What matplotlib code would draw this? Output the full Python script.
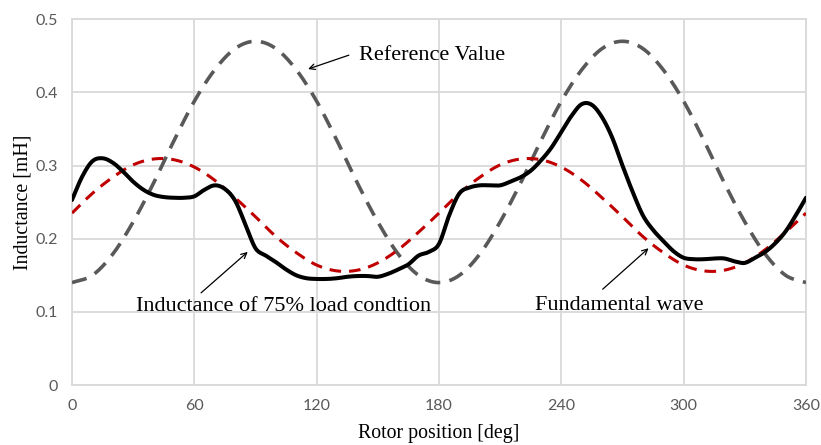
import numpy as np
import matplotlib
matplotlib.use("Agg")
import matplotlib.pyplot as plt

# Rotor position samples [deg]
pos_fine = list(range(0, 361, 5))
pos_coarse = list(range(0, 361, 10))

# Measured inductance at 75 % load [mH], every 5 deg
load75 = [
    0.253, 0.285, 0.306, 0.310, 0.304, 0.292, 0.278, 0.267, 0.260, 0.257,
    0.256, 0.256, 0.258, 0.267, 0.273, 0.268, 0.252, 0.220, 0.187, 0.177,
    0.168, 0.158, 0.150, 0.146, 0.145, 0.145, 0.146, 0.148, 0.149, 0.149,
    0.148, 0.152, 0.158, 0.165, 0.177, 0.182, 0.193, 0.232, 0.262, 0.270,
    0.273, 0.273, 0.273, 0.278, 0.284, 0.293, 0.307, 0.324, 0.346, 0.368,
    0.384, 0.383, 0.366, 0.338, 0.300, 0.264, 0.232, 0.212, 0.197, 0.183,
    0.174, 0.172, 0.172, 0.173, 0.173, 0.169, 0.167, 0.174, 0.182, 0.194,
    0.210, 0.232, 0.256,
]

# Fundamental component of the measured inductance [mH], every 10 deg
fundamental = [
    0.235, 0.262, 0.284, 0.301, 0.309, 0.308, 0.298, 0.280, 0.256, 0.230,
    0.203, 0.181, 0.164, 0.156, 0.157, 0.167, 0.185, 0.209, 0.235,
    0.262, 0.284, 0.301, 0.309, 0.308, 0.298, 0.280, 0.256, 0.230,
    0.203, 0.181, 0.164, 0.156, 0.157, 0.167, 0.185, 0.209, 0.235,
]

# Reference inductance profile [mH], every 10 deg
reference = [
    0.140, 0.150, 0.179, 0.223, 0.276, 0.334, 0.388, 0.431, 0.460, 0.470,
    0.460, 0.431, 0.388, 0.334, 0.276, 0.223, 0.179, 0.150, 0.140,
    0.150, 0.179, 0.223, 0.276, 0.334, 0.388, 0.431, 0.460, 0.470,
    0.460, 0.431, 0.388, 0.334, 0.276, 0.223, 0.179, 0.150, 0.140,
]

x_ticks = [0, 60, 120, 180, 240, 300, 360]
y_ticks = [0, 0.1, 0.2, 0.3, 0.4, 0.5]
y_tick_labels = ["0", "0.1", "0.2", "0.3", "0.4", "0.5"]


def smooth(x, y, steps=12):
    """Catmull-Rom curve through the samples, like a spreadsheet smoothed line."""
    x = np.asarray(x, float)
    y = np.asarray(y, float)
    px = np.concatenate([[2 * x[0] - x[1]], x, [2 * x[-1] - x[-2]]])
    py = np.concatenate([[2 * y[0] - y[1]], y, [2 * y[-1] - y[-2]]])
    t = np.linspace(0, 1, steps, endpoint=False)
    ox, oy = [], []
    for i in range(1, len(px) - 2):
        for arr, out in ((px, ox), (py, oy)):
            p0, p1, p2, p3 = arr[i - 1], arr[i], arr[i + 1], arr[i + 2]
            out.extend(0.5 * (2 * p1 + (-p0 + p2) * t
                              + (2 * p0 - 5 * p1 + 4 * p2 - p3) * t ** 2
                              + (-p0 + 3 * p1 - 3 * p2 + p3) * t ** 3))
    ox.append(x[-1])
    oy.append(y[-1])
    return np.array(ox), np.array(oy)


serif = "Liberation Serif"
tick_font = "Lato"
grid_col = "#d9d9d9"

fig = plt.figure(figsize=(8.21, 4.45), dpi=100)
ax = fig.add_axes([0.0877, 0.1348, 0.894, 0.8218])

gx, gy = smooth(pos_coarse, reference)
ax.plot(gx, gy, color="#595959", lw=2.6, dashes=(4.2, 2.6), zorder=3)
fx, fy = smooth(pos_coarse, fundamental)
ax.plot(fx, fy, color="#c00000", lw=2.2, dashes=(3.8, 2.6), zorder=4)
bx, by = smooth(pos_fine, load75)
ax.plot(bx, by, color="black", lw=2.9, zorder=5, solid_capstyle="round")

ax.set_xlim(0, 360)
ax.set_ylim(0, 0.5)
ax.set_xticks(x_ticks)
ax.set_yticks(y_ticks)
ax.set_yticklabels(y_tick_labels)
ax.grid(True, color=grid_col, lw=1.3, zorder=0)
ax.set_axisbelow(True)
for s in ax.spines.values():
    s.set_color(grid_col)
    s.set_linewidth(1.3)
ax.tick_params(length=0, pad=10, labelsize=11.5, labelcolor="#595959")
for lab in ax.get_xticklabels() + ax.get_yticklabels():
    lab.set_family(tick_font)

ax.set_xlabel("Rotor position [deg]", family=serif, fontsize=14.3, labelpad=8)
ax.set_ylabel("Inductance [mH]", family=serif, fontsize=14.3, labelpad=2.5)

arrow = dict(arrowstyle="->", color="black", lw=0.9, shrinkA=0, shrinkB=0)
ax.annotate("", xy=(115.8, 0.432), xytext=(135.8, 0.451), arrowprops=arrow)
ax.text(141, 0.451, "Reference Value", family=serif, fontsize=16, va="center", ha="left")

ax.annotate("", xy=(86.2, 0.182), xytext=(63.3, 0.126), arrowprops=arrow)
ax.text(31.5, 0.107, "Inductance of 75% load condtion", family=serif, fontsize=16,
        va="center", ha="left")

ax.annotate("", xy=(282.8, 0.187), xytext=(260.3, 0.131), arrowprops=arrow)
ax.text(227, 0.109, "Fundamental wave", family=serif, fontsize=16, va="center", ha="left")

fig.savefig("out.png", dpi=100)
